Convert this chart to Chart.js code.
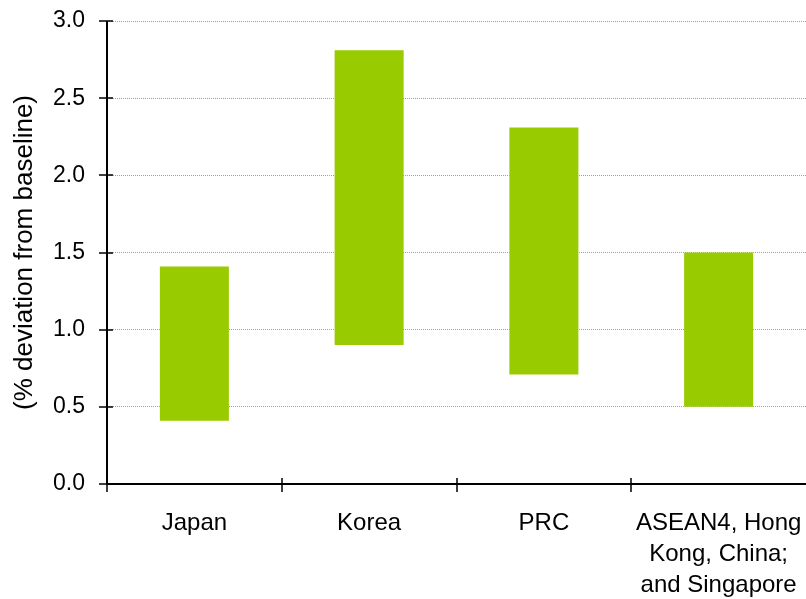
<!DOCTYPE html>
<html>
<head>
<meta charset="utf-8">
<script src="https://cdn.jsdelivr.net/npm/chart.js@4"></script>
<style>
  html, body { margin: 0; padding: 0; background: #fff; overflow: hidden; }
  #wrap { width: 806px; height: 599px; }
</style>
</head>
<body>
<div id="wrap"><canvas id="myChart"></canvas></div>
<script>
const categories = [
    'Japan',
    'Korea',
    'PRC',
    ['ASEAN4, Hong', 'Kong, China;', 'and Singapore'],
];
const lowValues = [0.41, 0.90, 0.71, 0.50];
const highValues = [1.41, 2.81, 2.31, 1.50];
const yTicks = [0, 0.5, 1.0, 1.5, 2.0, 2.5, 3.0];

const ranges = lowValues.map((lo, i) => [lo, highValues[i]]);

// tick marks that cross the axis lines
const crossTicks = {
    id: 'crossTicks',
    afterDraw(chart) {
        const ctx = chart.ctx
        const x = chart.scales.x
        const y = chart.scales.y
        const area = chart.chartArea
        ctx.save()
        ctx.strokeStyle = '#000'
        ctx.lineWidth = 2
        ctx.beginPath()
        ctx.moveTo(area.left, area.top)
        ctx.lineTo(area.left, area.bottom)
        ctx.lineTo(area.right, area.bottom)
        ctx.stroke()
        ctx.lineWidth = 1.5
        ctx.beginPath()
        yTicks.forEach(v => {
            const py = Math.round(y.getPixelForValue(v))
            ctx.moveTo(area.left - 8, py)
            ctx.lineTo(area.left + 6, py)
        })
        for (let i = 0; i < categories.length; i++) {
            const px = Math.round(x.getPixelForValue(i) - (x.getPixelForValue(1) - x.getPixelForValue(0)) / 2)
            ctx.moveTo(px, area.bottom - 6)
            ctx.lineTo(px, area.bottom + 8)
        }
        ctx.stroke()
        ctx.restore()
    }
};

const data = {
    labels: categories,
    datasets: [{
        data: ranges,
        backgroundColor: '#99cc00',
        borderWidth: 0,
        barPercentage: 0.395,
        categoryPercentage: 1.0,
    }]
};

const config = {
    type: 'bar',
    data: data,
    options: {
        responsive: true,
        maintainAspectRatio: false,
        animation: false,
        layout: { padding: { top: 21, right: 0, left: 9, bottom: 0 } },
        plugins: {
            legend: { display: false },
            tooltip: { enabled: false },
        },
        scales: {
            x: {
                offset: true,
                grid: { display: false, drawTicks: false },
                border: { display: false },
                ticks: {
                    color: '#000',
                    font: { family: 'Liberation Sans, Arial', size: 24, lineHeight: 1.29 },
                    padding: 24,
                    maxRotation: 0,
                    autoSkip: false,
                },
                afterFit(scale) {
                    scale.height = 115
                    scale.paddingLeft = 0
                    scale.paddingRight = 0
                },
            },
            y: {
                min: 0,
                max: 3,
                afterBuildTicks(scale) { scale.ticks = yTicks.map(v => ({ value: v })) },
                grid: {
                    color: '#a0a0a0',
                    lineWidth: 1,
                    drawTicks: false,
                },
                border: { display: false, dash: [1, 1] },
                ticks: {
                    color: '#000',
                    font: { family: 'Liberation Sans, Arial', size: 23 },
                    padding: 22,
                    callback: v => Number(v).toFixed(1),
                },
                title: {
                    display: true,
                    text: '(% deviation from baseline)',
                    color: '#000',
                    font: { family: 'Liberation Sans, Arial', size: 26 },
                    padding: { top: 0, bottom: 0 },
                },
                afterFit(scale) {
                    scale.width = 98
                    scale.paddingTop = 0
                    scale.paddingBottom = 0
                },
            }
        }
    },
    plugins: [crossTicks]
};

const myChart = new Chart(
    document.getElementById('myChart'),
    config
);
</script>
</body>
</html>
